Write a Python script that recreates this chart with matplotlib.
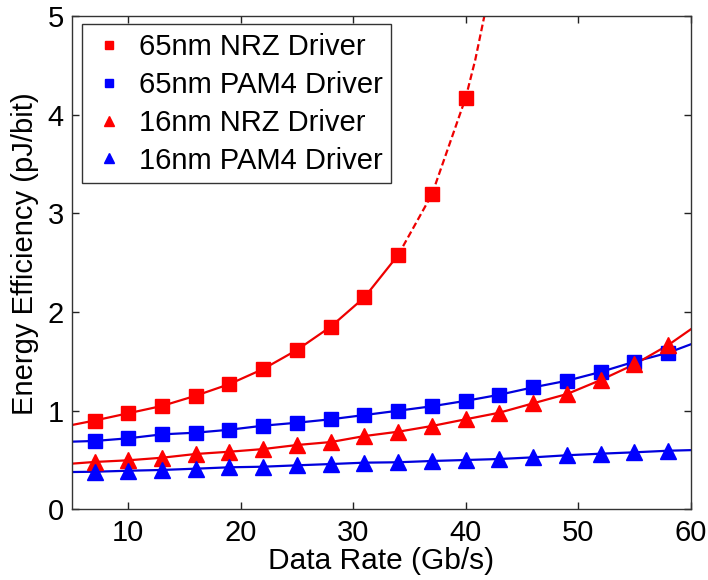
import matplotlib
matplotlib.use("Agg")
import matplotlib.pyplot as plt
from matplotlib.lines import Line2D

plt.rcParams['font.family'] = ['Liberation Sans', 'DejaVu Sans']

# Data rates at which each driver was evaluated (Gb/s)
rates = [7, 10, 13, 16, 19, 22, 25, 28, 31, 34, 37, 40, 43, 46, 49, 52, 55, 58]

# Energy efficiency (pJ/bit)
nrz65 = [0.90, 0.974, 1.048, 1.152, 1.27, 1.423, 1.616, 1.852, 2.15, 2.58, 3.195, 4.175]
pam65 = [0.693, 0.72, 0.76, 0.777, 0.807, 0.848, 0.878, 0.913, 0.956, 1.0, 1.045,
         1.10, 1.162, 1.237, 1.304, 1.393, 1.497, 1.588]
nrz16 = [0.48, 0.497, 0.523, 0.561, 0.584, 0.611, 0.652, 0.682, 0.743, 0.787, 0.845,
         0.913, 0.98, 1.075, 1.169, 1.311, 1.47, 1.666]
pam16 = [0.381, 0.391, 0.399, 0.412, 0.426, 0.432, 0.446, 0.459, 0.473, 0.477, 0.49,
         0.50, 0.51, 0.527, 0.548, 0.564, 0.578, 0.594]

# Model curve end values at the axis limits
nrz65_start = 0.855
nrz65_tail_x = [40.85, 41.65]
nrz65_tail_y = [4.56, 5.0]
pam65_ends = (0.686, 1.673)
nrz16_ends = (0.463, 1.825)
pam16_ends = (0.378, 0.60)

labels = ["65nm NRZ Driver", "65nm PAM4 Driver", "16nm NRZ Driver", "16nm PAM4 Driver"]

fig = plt.figure(figsize=(7.08, 5.8), dpi=100)
ax = fig.add_axes([0.1017, 0.1219, 0.8739, 0.850])

lw = 1.6
# 65nm NRZ: solid model curve up to 34 Gb/s, dashed extrapolation beyond
n_solid = rates.index(34) + 1
ax.plot([5] + rates[:n_solid], [nrz65_start] + nrz65[:n_solid], color='#ee0000', lw=lw)
ax.plot(rates[n_solid - 1:len(nrz65)] + nrz65_tail_x,
        nrz65[n_solid - 1:] + nrz65_tail_y, color='#ee0000', lw=lw, ls=(0, (3, 1.5)))

ax.plot([5] + rates + [60], [pam65_ends[0]] + pam65 + [pam65_ends[1]], color='#0000dd', lw=lw)
ax.plot([5] + rates + [60], [nrz16_ends[0]] + nrz16 + [nrz16_ends[1]], color='#ee0000', lw=lw)
ax.plot([5] + rates + [60], [pam16_ends[0]] + pam16 + [pam16_ends[1]], color='#0000dd', lw=lw)

ms_sq = 10
ms_tri = 11
ax.plot(rates[:len(nrz65)], nrz65, ls='none', marker='s', ms=ms_sq, color='#ff0000', mec='#ff0000')
ax.plot(rates, pam65, ls='none', marker='s', ms=ms_sq, color='#0000ff', mec='#0000ff')
ax.plot(rates, nrz16, ls='none', marker='^', ms=ms_tri, color='#ff0000', mec='#ff0000')
ax.plot(rates, pam16, ls='none', marker='^', ms=ms_tri, color='#0000ff', mec='#0000ff')

ax.set_xlim(5, 60)
ax.set_ylim(0, 5)
ax.set_xticks([10, 20, 30, 40, 50, 60])
ax.set_yticks([0, 1, 2, 3, 4, 5])
ax.tick_params(direction='in', top=True, right=True, length=5, width=1,
               labelsize=21, colors='#222222', labelcolor='black')
ax.tick_params(axis='x', pad=7)
ax.tick_params(axis='y', pad=6)
for s in ax.spines.values():
    s.set_linewidth(1.0)
    s.set_color('#333333')

ax.set_xlabel("Data Rate (Gb/s)", fontsize=21.5, labelpad=0)
ax.set_ylabel("Energy Efficiency (pJ/bit)", fontsize=21)
ax.yaxis.set_label_coords(-0.054, 0.518)

handles = [
    Line2D([], [], ls='none', marker='s', ms=6, color='#ff0000'),
    Line2D([], [], ls='none', marker='s', ms=6, color='#0000ff'),
    Line2D([], [], ls='none', marker='^', ms=7, color='#ff0000'),
    Line2D([], [], ls='none', marker='^', ms=7, color='#0000ff'),
]
leg = ax.legend(handles, labels, loc='upper left', bbox_to_anchor=(0.0157, 0.984),
                borderaxespad=0, fontsize=21, frameon=True, fancybox=False,
                handlelength=1.3, handletextpad=0.35, labelspacing=0.34,
                borderpad=0.3, edgecolor='black')
leg.get_frame().set_linewidth(1.0)

fig.savefig("out.png", dpi=100)
